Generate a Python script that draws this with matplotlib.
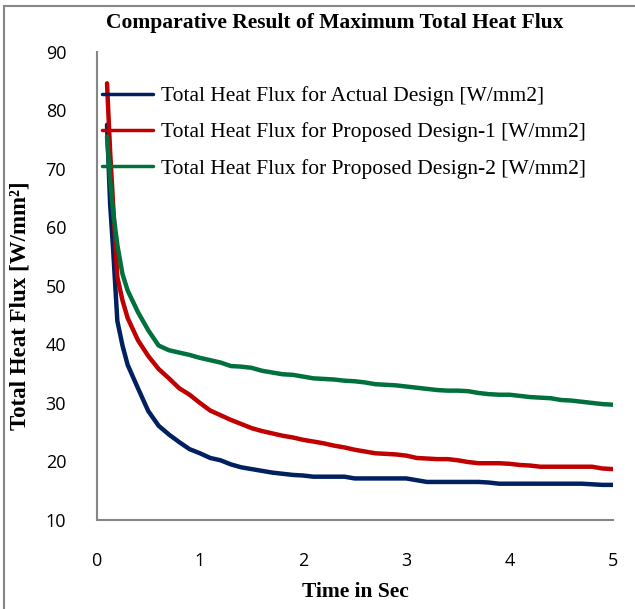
import matplotlib
matplotlib.use("Agg")
import matplotlib.pyplot as plt
from matplotlib.lines import Line2D

# time in seconds (finer spacing at the start where the curves drop fast)
time_s = [0.1, 0.13, 0.16, 0.2, 0.25, 0.3, 0.4, 0.5, 0.6, 0.7, 0.8, 0.9, 1.0,
          1.1, 1.2, 1.3, 1.4, 1.5, 1.6, 1.7, 1.8, 1.9, 2.0,
          2.1, 2.2, 2.3, 2.4, 2.5, 2.6, 2.7, 2.8, 2.9, 3.0,
          3.1, 3.2, 3.3, 3.4, 3.5, 3.6, 3.7, 3.8, 3.9, 4.0,
          4.1, 4.2, 4.3, 4.4, 4.5, 4.6, 4.7, 4.8, 4.9, 5.0]

actual = [77.5, 64.0, 56.0, 44.0, 39.8, 36.5, 32.5, 28.6, 26.1, 24.6, 23.3, 22.1, 21.4,
          20.6, 20.2, 19.5, 19.0, 18.7, 18.4, 18.1, 17.9, 17.7, 17.6,
          17.4, 17.4, 17.4, 17.4, 17.1, 17.1, 17.1, 17.1, 17.1, 17.1,
          16.8, 16.5, 16.5, 16.5, 16.5, 16.5, 16.5, 16.4, 16.2, 16.2,
          16.2, 16.2, 16.2, 16.2, 16.2, 16.2, 16.2, 16.1, 16.0, 16.0]

proposed_1 = [84.6, 73.0, 63.6, 51.5, 47.5, 44.5, 40.7, 38.0, 35.8, 34.2, 32.5, 31.4, 30.0,
              28.7, 27.9, 27.1, 26.4, 25.7, 25.2, 24.8, 24.4, 24.1, 23.7,
              23.4, 23.1, 22.7, 22.4, 22.0, 21.7, 21.4, 21.3, 21.2, 21.0,
              20.6, 20.5, 20.4, 20.4, 20.2, 19.9, 19.7, 19.7, 19.7, 19.6,
              19.4, 19.3, 19.1, 19.1, 19.1, 19.1, 19.1, 19.1, 18.8, 18.7]

proposed_2 = [75.5, 68.1, 62.5, 57.0, 52.0, 49.2, 45.5, 42.4, 39.8, 39.0, 38.6, 38.2, 37.7,
              37.3, 36.9, 36.3, 36.2, 36.0, 35.5, 35.2, 34.9, 34.8, 34.5,
              34.2, 34.1, 34.0, 33.8, 33.7, 33.5, 33.2, 33.1, 33.0, 32.8,
              32.6, 32.4, 32.2, 32.1, 32.1, 32.0, 31.7, 31.5, 31.4, 31.4,
              31.2, 31.0, 30.9, 30.8, 30.5, 30.4, 30.2, 30.0, 29.8, 29.7]

series_labels = ["Total Heat Flux for Actual Design [W/mm2]",
                 "Total Heat Flux for Proposed Design-1 [W/mm2]",
                 "Total Heat Flux for Proposed Design-2 [W/mm2]"]
colors = ["#002060", "#C00000", "#00703C"]

serif = ["Liberation Serif", "DejaVu Serif"]
W, H = 635, 609

fig = plt.figure(figsize=(6.35, 6.09), dpi=100)
ax = fig.add_axes([96.7 / W, 1 - 520 / H, (612.7 - 96.7) / W, (520 - 51.7) / H])

for ys, lab, c in zip([actual, proposed_1, proposed_2], series_labels, colors):
    ax.plot(time_s, ys, color=c, lw=3.2, label=lab, solid_capstyle="round")

ax.set_xlim(0, 5)
ax.set_ylim(10, 90)
ax.set_xticks(range(0, 6))
ax.set_yticks(range(10, 100, 10))
for s in ["top", "right"]:
    ax.spines[s].set_visible(False)
for s in ["left", "bottom"]:
    ax.spines[s].set_color("#868686")
    ax.spines[s].set_linewidth(1.5)
ax.tick_params(length=0, labelsize=13, labelcolor="black")
ax.tick_params(axis="x", pad=23)
ax.tick_params(axis="y", pad=22)
for t in ax.get_xticklabels() + ax.get_yticklabels():
    t.set_family("Open Sans")

fig.text(335 / W, 1 - 23 / H, "Comparative Result of Maximum Total Heat Flux",
         ha="center", va="center", fontsize=15.5, fontweight="bold", family=serif)
fig.text(355 / W, 1 - 592 / H, "Time in Sec", ha="center", va="center",
         fontsize=15.5, fontweight="bold", family=serif)
fig.text(20 / W, 1 - 306 / H, "Total Heat Flux [W/mm²]", ha="center", va="center",
         rotation=90, fontsize=16.5, fontweight="bold", family=serif)

leg = fig.legend(loc="upper left", bbox_to_anchor=(101.7 / W, 1 - 86 / H),
                 frameon=False, borderpad=0, borderaxespad=0,
                 handlelength=2.4, handletextpad=0.35, labelspacing=0.76,
                 prop={"family": serif, "size": 15.5})
for h in leg.get_lines():
    h.set_linewidth(2.5)

# outer chart border (only top and left visible in the crop)
fig.add_artist(Line2D([4 / W, 4 / W], [0, 1 - 6 / H], color="#888888", lw=1.5))
fig.add_artist(Line2D([4 / W, 1], [1 - 6 / H, 1 - 6 / H], color="#888888", lw=1.5))

fig.savefig("out.png", dpi=100)
